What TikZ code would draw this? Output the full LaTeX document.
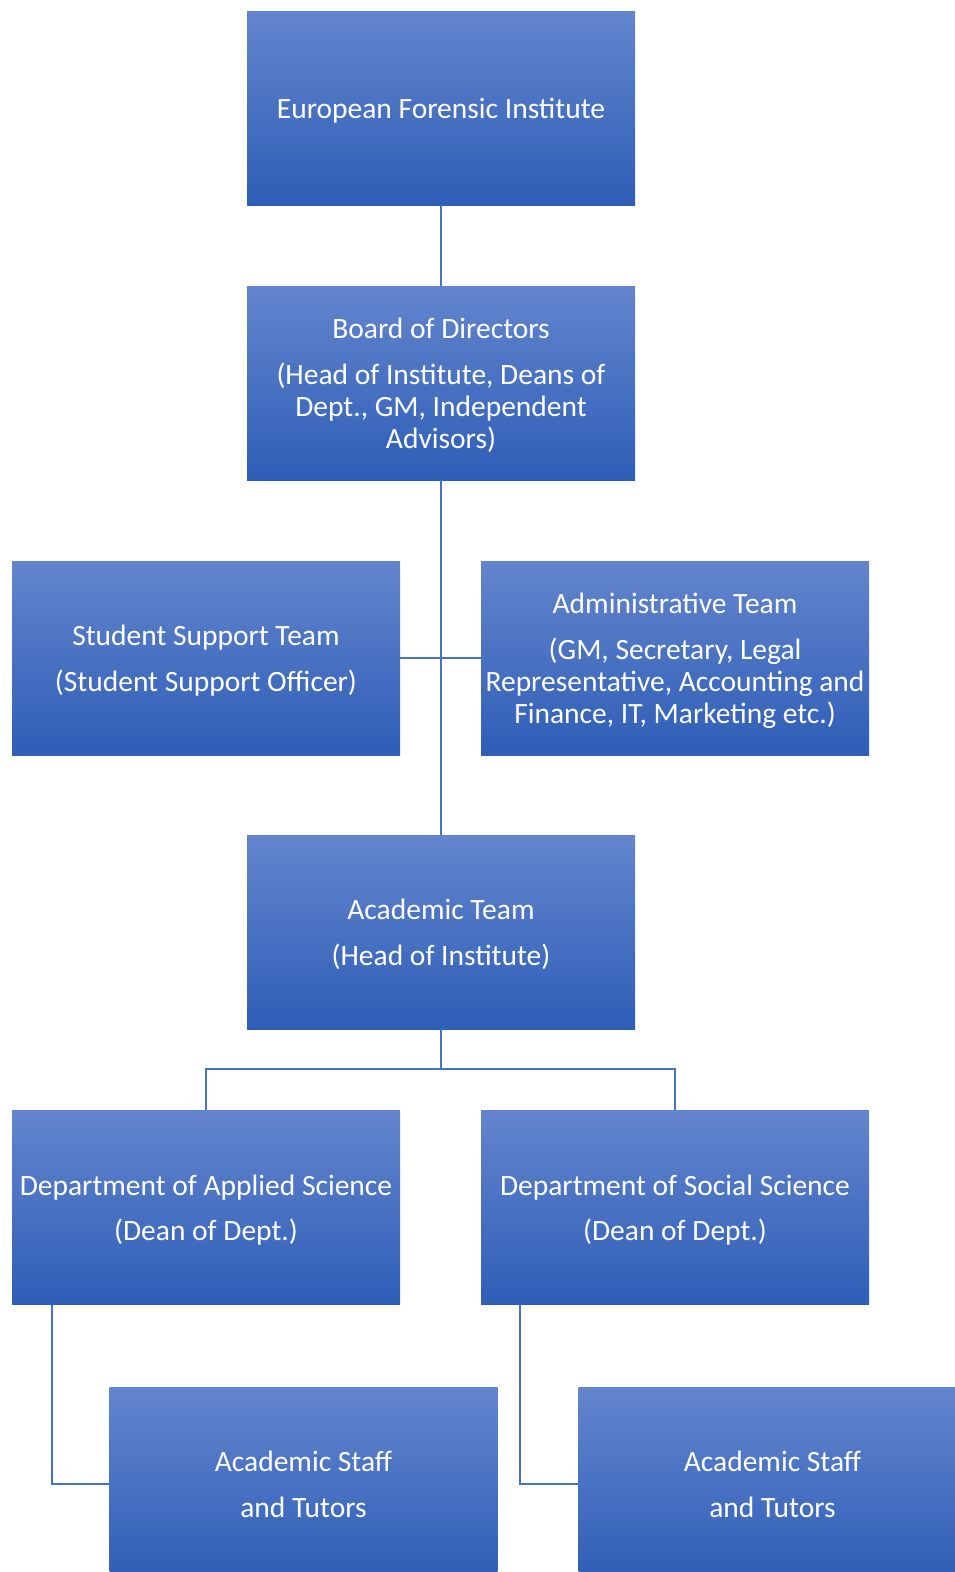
\documentclass[tikz,border=0pt]{standalone}
\usepackage{fontspec}
\setmainfont{Carlito}
\definecolor{boxtop}{RGB}{99,133,205}
\definecolor{boxbot}{RGB}{46,94,183}
\definecolor{linkblue}{RGB}{68,114,196}
% box text: centred lines, lowered a little while keeping its box size
\newcommand{\boxtext}[1]{\raisebox{-4pt}[\height][\depth]{\begin{tabular}{@{}c@{}}#1\end{tabular}}}
\begin{document}
\begin{tikzpicture}[x=1pt,y=-1pt,
  orgbox/.style={rectangle, top color=boxtop, bottom color=boxbot, draw=none,
    minimum width=388pt, minimum height=194pt, inner sep=0pt,
    text=white, font=\fontsize{29.5}{32}\selectfont},
  link/.style={draw=linkblue, line width=1.3pt}]
\useasboundingbox (0,0) rectangle (955,1572);

\node[orgbox] (top) at (441,108) {\boxtext{European Forensic Institute}};
\node[orgbox] (board) at (441,383) {\boxtext{Board of Directors\\[13.5pt](Head of Institute, Deans of\\Dept., GM, Independent\\Advisors)}};
\node[orgbox] (ss) at (206,658) {\boxtext{Student Support Team\\[13.5pt](Student Support Officer)}};
\node[orgbox] (admin) at (675,658) {\boxtext{Administrative Team\\[13.5pt](GM, Secretary, Legal\\Representative, Accounting and\\Finance, IT, Marketing etc.)}};
\node[orgbox] (acad) at (441,932) {\boxtext{Academic Team\\[13.5pt](Head of Institute)}};
\node[orgbox] (dapp) at (206,1207.5) {\boxtext{Department of Applied Science\\[13.5pt](Dean of Dept.)}};
\node[orgbox] (dsoc) at (675,1207.5) {\boxtext{Department of Social Science\\[13.5pt](Dean of Dept.)}};
\node[orgbox] (staffl) at (303.5,1484) {\boxtext{Academic Staff\\[13.5pt]and Tutors}};
\node[orgbox] (staffr) at (772.5,1484) {\boxtext{Academic Staff\\[13.5pt]and Tutors}};

% reporting lines
\coordinate (split) at (441,1069);
\draw[link] (top.south) -- (board.north);
\draw[link] (board.south) -- (acad.north);
\draw[link] (ss.east) -- (admin.west);
\draw[link] (acad.south) -- (split);
\draw[link] (dapp.north) |- (split) -| (dsoc.north);
\draw[link] ([xshift=-154pt]dapp.south) |- (staffl.west);
\draw[link] ([xshift=-155pt]dsoc.south) |- (staffr.west);
\end{tikzpicture}
\end{document}
